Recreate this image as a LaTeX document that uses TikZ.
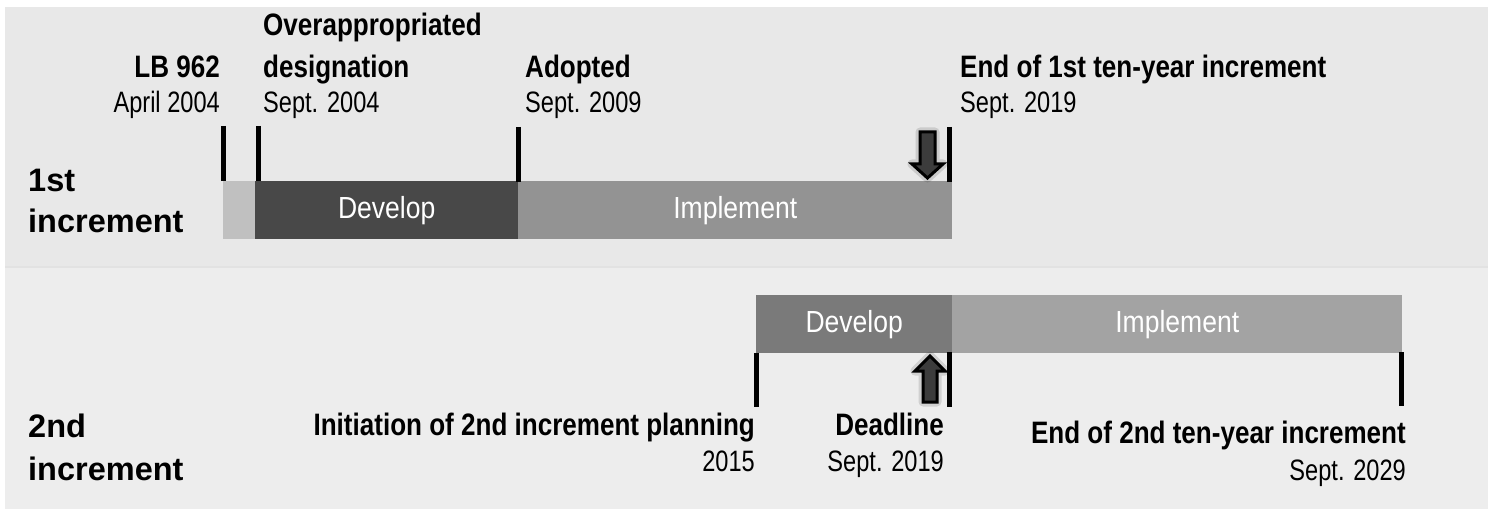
\documentclass[tikz,border=0pt]{standalone}
\usepackage{fontspec}
\setmainfont{Liberation Sans}
\newfontfamily\nreg[FakeStretch=0.80]{Liberation Sans}
\newfontfamily\nbar[FakeStretch=0.87]{Liberation Sans}
\newfontfamily\nbold[FakeStretch=0.84]{Liberation Sans}
\definecolor{panelA}{HTML}{E8E8E8}
\definecolor{panelB}{HTML}{EDEDED}
\definecolor{sepline}{HTML}{E2E2E2}
\definecolor{lightbar}{HTML}{C0C0C0}
\definecolor{devA}{HTML}{484848}
\definecolor{impA}{HTML}{939393}
\definecolor{devB}{HTML}{7A7A7A}
\definecolor{impB}{HTML}{A3A3A3}
\definecolor{arrowfill}{HTML}{3C3C3C}
\tikzset{
  boldlbl/.style={font=\nbold\bfseries\fontsize{31}{36}\selectfont, inner sep=0pt, text=black},
  datelbl/.style={font=\nreg\fontsize{29.5}{34}\selectfont, inner sep=0pt, text=black},
  rowlbl/.style={font=\bfseries\fontsize{32.5}{40}\selectfont, inner sep=0pt, text=black},
  bar/.style={draw=none, inner sep=0pt, minimum height=58pt, anchor=north west, text=white, font=\nbar\fontsize{30.5}{34}\selectfont},
  tick/.style={line width=5pt, black},
  bigarrow/.style={draw=black, fill=arrowfill, line width=3pt, line join=miter},
  glow/.style={draw=black, line width=9pt, opacity=0.12, line join=round}
}
\begin{document}
\begin{tikzpicture}[x=1pt,y=-1pt]
\useasboundingbox (0,0) rectangle (1488,513);
% panels
\fill[panelA] (5,7) rectangle (1488,266);
\fill[panelB] (5,268) rectangle (1488,509);
\draw[sepline, line width=2pt] (5,267) -- (1488,267);

% row labels
\node[rowlbl, anchor=base west] (r1a) at (28,192) {1st};
\node[rowlbl, anchor=base west] (r1b) at (28,233) {increment};
\node[rowlbl, anchor=base west] (r2a) at (28,437) {2nd};
\node[rowlbl, anchor=base west] (r2b) at (28,480) {increment};

% row 1 bars
\node[bar, fill=lightbar, minimum width=32pt] (pre) at (223,181) {};
\node[bar, fill=devA, minimum width=263pt] (dev1) at (255,181) {Develop};
\node[bar, fill=impA, minimum width=434pt] (imp1) at (518,181) {Implement};

% row 2 bars
\node[bar, fill=devB, minimum width=196pt] (dev2) at (756,295) {Develop};
\node[bar, fill=impB, minimum width=450pt] (imp2) at (952,295) {Implement};

% row 1 ticks
\coordinate (t1a) at (223.5,126); \coordinate (t1b) at (223.5,181);
\coordinate (t2a) at (258,126);   \coordinate (t2b) at (258,181);
\coordinate (t3a) at (518,127);   \coordinate (t3b) at (518,182);
\coordinate (t4a) at (949.5,127); \coordinate (t4b) at (949.5,182);
\draw[tick] (t1a) -- (t1b);
\draw[tick] (t2a) -- (t2b);
\draw[tick] (t3a) -- (t3b);
\draw[tick] (t4a) -- (t4b);

% row 2 ticks
\coordinate (u1a) at (756,353);   \coordinate (u1b) at (756,407);
\coordinate (u2a) at (949.5,352); \coordinate (u2b) at (949.5,407);
\coordinate (u3a) at (1401.5,352);\coordinate (u3b) at (1401.5,406);
\draw[tick] (u1a) -- (u1b);
\draw[tick] (u2a) -- (u2b);
\draw[tick] (u3a) -- (u3b);

% down arrow (row 1)
\draw[glow] (920,132) -- (935,132) -- (935,164) -- (943,164) -- (927.5,178) -- (912,164) -- (920,164) -- cycle;
\draw[bigarrow] (920,132) -- (935,132) -- (935,164) -- (943,164) -- (927.5,178) -- (912,164) -- (920,164) -- cycle;

% up arrow (row 2)
\draw[glow] (923,402) -- (937,402) -- (937,371) -- (945,371) -- (930,356) -- (915,371) -- (923,371) -- cycle;
\draw[bigarrow] (923,402) -- (937,402) -- (937,371) -- (945,371) -- (930,356) -- (915,371) -- (923,371) -- cycle;

% row 1 labels
\node[boldlbl, anchor=base east] (lb) at (220,78) {LB 962};
\node[datelbl, anchor=base east] (lbd) at (220,113) {April 2004};
\node[boldlbl, anchor=base west] (ova) at (263,36) {Overappropriated};
\node[boldlbl, anchor=base west] (ovb) at (263,78) {designation};
\node[datelbl, anchor=base west] (ovd) at (263,113) {Sept. 2004};
\node[boldlbl, anchor=base west] (ad) at (525,78) {Adopted};
\node[datelbl, anchor=base west] (add) at (525,113) {Sept. 2009};
\node[boldlbl, anchor=base west] (e1) at (960,78) {End of 1st ten-year increment};
\node[datelbl, anchor=base west] (e1d) at (960,113) {Sept. 2019};

% row 2 labels
\node[boldlbl, anchor=base east] (ini) at (755,435) {Initiation of 2nd increment planning};
\node[datelbl, anchor=base east] (inid) at (755,471) {2015};
\node[boldlbl, anchor=base east] (dl) at (944,435) {Deadline};
\node[datelbl, anchor=base east] (dld) at (944,471) {Sept. 2019};
\node[boldlbl, anchor=base east] (e2) at (1406,443) {End of 2nd ten-year increment};
\node[datelbl, anchor=base east] (e2d) at (1406,480) {Sept. 2029};
\end{tikzpicture}
\end{document}
